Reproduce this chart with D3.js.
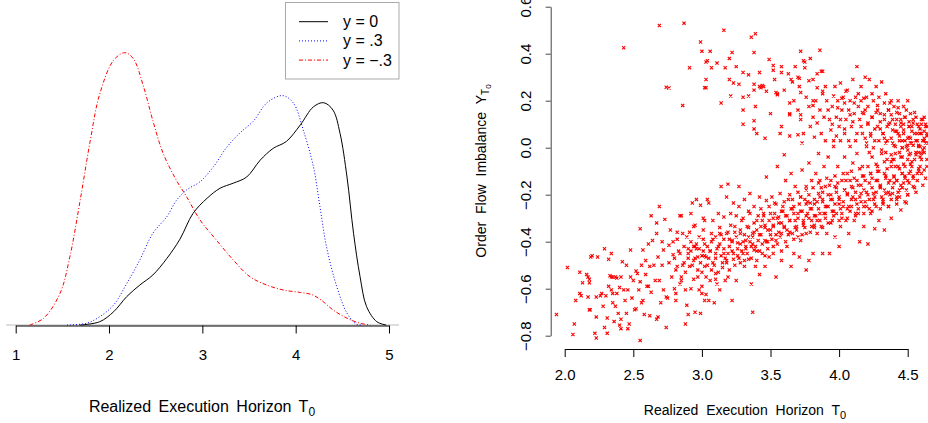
<!DOCTYPE html>
<html>
<head>
<meta charset="utf-8">
<script src="https://cdn.jsdelivr.net/npm/d3@7"></script>
<style>
  body { margin: 0; background: #fff; }
  svg { display: block; font-family: "Liberation Sans", Arial, sans-serif; }
</style>
</head>
<body>
<script>
// density curves, [T0, density]
var densY0 = [[1.69,0],[1.90,0.011],[2.05,0.045],[2.19,0.096],[2.33,0.135],[2.47,0.169],[2.62,0.225],[2.76,0.29],[2.90,0.377],[3.05,0.428],[3.19,0.462],[3.33,0.479],[3.475,0.50],[3.62,0.557],[3.76,0.597],[3.90,0.62],[4.05,0.676],[4.19,0.737],[4.30,0.751],[4.40,0.726],[4.475,0.648],[4.55,0.50],[4.62,0.31],[4.69,0.163],[4.76,0.062],[4.87,0.011],[4.97,0]];
var densY03 = [[1.55,0],[1.76,0.006],[1.90,0.028],[2.05,0.068],[2.19,0.14],[2.33,0.22],[2.47,0.31],[2.62,0.366],[2.72,0.42],[2.83,0.456],[2.975,0.484],[3.12,0.535],[3.26,0.60],[3.40,0.648],[3.55,0.69],[3.69,0.75],[3.86,0.775],[3.975,0.75],[4.08,0.66],[4.19,0.535],[4.26,0.40],[4.33,0.265],[4.44,0.13],[4.55,0.04],[4.65,0.003],[4.72,0]];
var densYm03 = [[1.15,0],[1.30,0.023],[1.475,0.107],[1.58,0.23],[1.69,0.42],[1.80,0.625],[1.90,0.78],[2.05,0.895],[2.17,0.92],[2.26,0.90],[2.37,0.805],[2.47,0.69],[2.58,0.58],[2.72,0.49],[2.83,0.434],[2.975,0.355],[3.15,0.287],[3.33,0.22],[3.51,0.163],[3.69,0.135],[3.87,0.118],[4.05,0.110],[4.17,0.103],[4.27,0.085],[4.40,0.051],[4.55,0.023],[4.69,0.006],[4.80,0]];

var legendLabels = ["y = 0", "y = .3", "y = \u2212.3"];
var leftTicks = [1, 2, 3, 4, 5];
var rightXTicks = [2.0, 2.5, 3.0, 3.5, 4.0, 4.5];
var rightYTicks = [-0.8, -0.6, -0.4, -0.2, 0.0, 0.2, 0.4, 0.6];

// scatter (T0, Y_T0), upper branch
var upperPoints = [[2.43,0.425],[2.69,0.52],[2.87,0.53],[2.74,0.257],[2.76,0.254],[2.86,0.18],[2.91,0.34],[2.99,0.45],[3.00,0.41],[3.06,0.41],[3.03,0.365],[3.04,0.37],[3.07,0.34],[3.03,0.29],[3.02,0.255],[3.03,0.255],[3.11,0.36],[3.16,0.50],[3.17,0.34],[3.20,0.38],[3.22,0.405],[3.14,0.19],[3.20,0.29],[3.21,0.22],[3.23,0.275],[3.25,0.345],[3.27,0.27],[3.30,0.32],[3.34,0.31],[3.30,0.215],[3.34,0.22],[3.30,0.16],[3.30,0.10],[3.36,0.47],[3.39,0.485],[3.38,0.405],[3.38,0.27],[3.38,0.245],[3.38,0.115],[3.38,0.08],[3.39,0.175],[3.40,0.06],[3.42,0.26],[3.43,0.255],[3.44,0.265],[3.45,0.26],[3.42,0.32],[3.47,0.24],[3.46,0.04],[3.49,0.375],[3.50,0.145],[3.52,0.35],[3.52,0.33],[3.53,0.29],[3.54,0.235],[3.55,0.23],[3.55,0.225],[3.58,0.345],[3.58,0.32],[3.58,0.09],[3.57,0.06],[3.60,0.245],[3.63,0.315],[3.64,0.14],[3.64,0.145],[3.64,0.05],[3.65,0.29],[3.66,0.28],[3.68,0.345],[3.70,0.30],[3.71,0.295],[3.71,0.26],[3.72,0.235],[3.72,0.41],[3.74,0.37],[3.75,0.365],[3.75,0.34],[3.78,0.285],[3.79,0.38],[3.81,0.29],[3.81,0.20],[3.81,0.18],[3.84,0.315],[3.84,0.255],[3.86,0.415],[3.87,0.325],[3.88,0.325],[3.88,0.24],[3.90,0.26],[3.72,0.14],[3.72,0.12],[3.70,0.055],[3.73,0.02],[3.76,0.215],[3.78,0.175],[3.79,0.09],[3.81,0.13],[3.82,0.045],[3.83,0.20],[3.84,0.105],[3.86,0.16],[3.87,0.06],[3.88,0.23],[3.89,0.13],[3.90,0.03],[3.70,0.16],[3.74,0.06],[3.67,0.20],[3.64,0.19],
  [3.91,0.20],[3.92,0.16],[3.93,0.12],[3.94,0.075],[3.95,0.175],[3.96,0.03],[3.97,0.26],[3.98,0.13],[3.99,0.20],[4.00,0.09],[4.01,0.275],[4.02,0.16],[4.03,0.215],[4.04,0.06],[4.04,0.19],[4.05,0.12],[4.06,0.245],[4.07,0.16],[4.08,0.20],[4.09,0.09],[4.10,0.29],[4.11,0.145],[4.12,0.215],[4.12,0.03],[4.13,0.345],[4.14,0.175],[4.15,0.12],[4.16,0.26],[4.16,0.20],[4.17,0.06],[4.18,0.145],[4.19,0.30],[4.20,0.215],[4.21,0.105],[4.21,0.175],[4.22,0.29],[4.23,0.06],[4.24,0.23],[4.24,0.13],[4.25,0.20],[4.26,0.03],[4.27,0.26],[4.28,0.16],[4.28,0.09],[4.29,0.215],[4.30,0.145],[4.31,0.28],[4.32,0.06],[4.33,0.19],[4.33,0.12],[4.34,0.23],[4.35,0.03],[4.36,0.16],[4.37,0.105],[4.38,0.20],[4.38,0.14],[4.39,0.075],[4.40,0.175],[4.41,0.005],[4.42,0.12],[4.43,0.20],[4.43,0.06],[4.44,0.145],[4.45,0.105],[4.46,0.03],[4.47,0.175],[4.47,0.075],[4.48,0.13],[4.49,0.005],[4.50,0.20],[4.51,0.09],[4.51,0.045],[4.52,0.145],[4.53,0.02],[4.54,0.105],[4.55,0.06],[4.56,0.13],[4.57,0.03],[4.58,0.09],[4.59,0.005],[4.60,0.06],[4.61,0.12],[4.62,0.03],[4.63,0.09],
  [4.30,0.08],[4.33,0.04],[4.36,0.10],[4.39,0.02],[4.42,0.07],[4.45,0.12],[4.48,0.03],[4.51,0.09],[4.54,0.01],[4.57,0.06],[4.60,0.10],[4.63,0.02],[4.34,-0.02],[4.40,-0.05],[4.46,0.00],[4.52,0.04],[4.58,-0.02],[4.62,0.07],[4.44,0.05],[4.50,0.01]];

// dense cluster where the two branches meet (right edge)
var clusterPoints = [[4.20,0.02],[4.21,0.10],[4.19,0.16],[4.23,0.05],[4.24,0.13],[4.22,-0.02],[4.26,0.08],[4.27,0.15],[4.25,0.00],[4.29,0.03],[4.30,0.11],[4.28,0.18],[4.32,0.06],[4.33,0.14],[4.31,-0.01],[4.35,0.09],[4.36,0.16],[4.34,0.02],[4.38,0.04],[4.39,0.12],[4.37,0.19],[4.38,-0.03],[4.41,0.07],[4.42,0.15],[4.40,0.01],[4.41,0.10],[4.44,0.03],[4.45,0.09],[4.43,0.17],[4.44,-0.02],[4.47,0.06],[4.48,0.13],[4.46,0.00],[4.47,0.10],[4.50,0.04],[4.51,0.11],[4.49,0.16],[4.50,-0.01],[4.53,0.07],[4.54,0.12],[4.52,0.02],[4.53,0.09],[4.56,0.03],[4.57,0.10],[4.55,0.15],[4.56,-0.02],[4.59,0.06],[4.60,0.12],[4.58,0.01],[4.59,0.08],[4.62,0.04],[4.63,0.10],[4.61,-0.01],[4.62,0.13],[4.64,0.06],[4.65,0.02],[4.64,0.09],
  [3.95,0.10],[3.96,0.22],[3.98,0.05],[3.99,0.17],[4.01,0.12],[4.02,0.21],[4.04,0.08],[4.05,0.24],[4.07,0.03],[4.08,0.14],[4.10,0.11],[4.11,0.19],[4.13,0.06],[4.14,0.23],[4.16,0.09],[4.17,0.15],[4.19,0.04],[4.18,0.21]];

// scatter, lower band
var lowerPoints = [[1.94,-0.71],[2.02,-0.51],[2.06,-0.795],[2.07,-0.75],[2.08,-0.65],[2.11,-0.53],[2.11,-0.62],[2.12,-0.63],[2.13,-0.575],[2.16,-0.54],[2.17,-0.55],[2.18,-0.56],[2.18,-0.69],[2.185,-0.69],[2.17,-0.635],[2.18,-0.575],[2.19,-0.465],[2.20,-0.46],[2.22,-0.79],[2.23,-0.81],[2.23,-0.72],[2.23,-0.635],[2.24,-0.465],[2.26,-0.63],[2.27,-0.62],[2.29,-0.43],[2.28,-0.675],[2.29,-0.765],[2.30,-0.63],[2.31,-0.725],[2.31,-0.79],[2.32,-0.475],[2.32,-0.59],[2.33,-0.545],[2.34,-0.55],[2.35,-0.55],[2.34,-0.45],[2.34,-0.605],[2.35,-0.62],[2.35,-0.66],[2.36,-0.74],[2.37,-0.55],[2.38,-0.555],[2.37,-0.675],[2.38,-0.62],[2.39,-0.705],[2.40,-0.755],[2.40,-0.595],[2.42,-0.485],[2.41,-0.55],[2.41,-0.73],[2.41,-0.77],[2.43,-0.605],[2.44,-0.65],[2.45,-0.50],[2.45,-0.705],[2.46,-0.605],[2.46,-0.77],[2.47,-0.75],[2.48,-0.435],[2.48,-0.55],[2.49,-0.64],[2.50,-0.565],[2.51,-0.69],[2.52,-0.685],[2.52,-0.525],[2.53,-0.535],[2.54,-0.605],[2.55,-0.345],[2.55,-0.57],[2.55,-0.82],[2.56,-0.50],[2.56,-0.66],[2.57,-0.65],[2.57,-0.435],[2.58,-0.71],[2.59,-0.48],[2.59,-0.54],[2.60,-0.59],[2.61,-0.59],[2.61,-0.41],[2.62,-0.715],[2.63,-0.615],[2.62,-0.505],[2.63,-0.29],[2.64,-0.395],[2.65,-0.50],[2.66,-0.565],[2.67,-0.73],[2.68,-0.72],[2.67,-0.32],[2.67,-0.365],[2.68,-0.465],[2.69,-0.25],[2.69,-0.565],[2.70,-0.66],[2.71,-0.40],[2.71,-0.50],[2.72,-0.605],[2.72,-0.435],[2.73,-0.305],[2.74,-0.765],[2.74,-0.635],[2.75,-0.64],[2.76,-0.415],[2.76,-0.49],[2.77,-0.35],[2.78,-0.55],[2.79,-0.455],[2.80,-0.60],[2.81,-0.65],[2.81,-0.62],[2.82,-0.39],[2.82,-0.505],[2.84,-0.29],[2.85,-0.29],[2.84,-0.45],[2.85,-0.565],[2.86,-0.365],[2.87,-0.49],[2.88,-0.605],[2.88,-0.75],[2.89,-0.67],[2.90,-0.43],[2.90,-0.71],[2.91,-0.505],[2.92,-0.28],[2.92,-0.60],[2.93,-0.235],[2.94,-0.42],[2.95,-0.42],[2.94,-0.335],[2.95,-0.70],[2.96,-0.22],[2.97,-0.465],[2.97,-0.55],[2.98,-0.605],[2.99,-0.245],[2.99,-0.705],[3.00,-0.59],[3.00,-0.62],[3.01,-0.44],[3.01,-0.30],[3.02,-0.31],[3.02,-0.65],[3.02,-0.505],[3.03,-0.625],[3.03,-0.465],[3.04,-0.22],[3.05,-0.235],[3.05,-0.65],[3.06,-0.565],[3.07,-0.365],[3.08,-0.31],[3.09,-0.66],[3.10,-0.535],[3.10,-0.45],[3.11,-0.58],[3.12,-0.28],[3.13,-0.605],[3.13,-0.365],[3.14,-0.165],[3.15,-0.49],[3.16,-0.295],[3.16,-0.45],[3.17,-0.565],[3.18,-0.21],[3.18,-0.365],[3.19,-0.155],[3.19,-0.45],[3.20,-0.52],[3.21,-0.28],[3.22,-0.395],[3.22,-0.65],[3.23,-0.235],[3.23,-0.475],[3.24,-0.335],[3.25,-0.565],[3.26,-0.405],[3.27,-0.165],[3.27,-0.25],[3.28,-0.49],[3.28,-0.365],[3.29,-0.31],[3.30,-0.45],[3.31,-0.505],[3.31,-0.22],[3.32,-0.395],[3.33,-0.335],[3.34,-0.475],[3.35,-0.28],[3.35,-0.195],[3.36,-0.58],[3.37,-0.70],[3.37,-0.365],[3.38,-0.435],[3.38,-0.25],[3.39,-0.505],[3.40,-0.31],[3.41,-0.395],[3.42,-0.54],[3.42,-0.21],[3.43,-0.335],[3.44,-0.45],[3.45,-0.28],[3.46,-0.505],[3.46,-0.395],[3.47,-0.125],[3.47,-0.225],[3.48,-0.35],[3.49,-0.465],[3.50,-0.28],[3.51,-0.21],[3.52,-0.42],[3.52,-0.335],[3.53,-0.235],[3.54,-0.55],[3.54,-0.395],[3.55,-0.08],[3.56,-0.295],[3.57,-0.195],[3.58,-0.365],[3.58,-0.48],[3.59,-0.25],[3.60,-0.03],[3.60,-0.335],[3.61,-0.14],[3.62,-0.42],[3.63,-0.22],[3.64,-0.31],[3.65,-0.505],[3.65,-0.11],[3.66,-0.365],[3.67,-0.25],[3.67,-0.45],[3.68,-0.165],[3.69,-0.335],[3.70,-0.28],[3.71,-0.465],[3.72,-0.21],[3.72,-0.395],[3.73,-0.095],[3.74,-0.31],[3.75,-0.22],[3.76,-0.52],[3.76,-0.365],[3.76,-0.165],[3.77,-0.28],[3.78,-0.48],[3.78,-0.065],[3.79,-0.235],[3.80,-0.335],[3.80,-0.14],[3.81,-0.45],[3.82,-0.22],[3.82,-0.29],[3.83,-0.11],[3.84,-0.365],[3.85,-0.195],[3.85,-0.025],[3.86,-0.28],[3.86,-0.14],[3.87,-0.335],[3.88,-0.45],[3.88,-0.22],[3.89,-0.08],[3.90,-0.28],[3.90,-0.165],[3.91,-0.365],[3.92,-0.25],[3.92,-0.04],[3.93,-0.45],[3.94,-0.14],[3.95,-0.31],[3.95,-0.22],[3.96,0.005],[3.97,-0.38],[3.97,-0.165],[3.98,-0.28],[3.99,-0.08],[4.00,-0.42],[4.00,-0.22],[4.01,0.03],[4.01,-0.335],[4.02,-0.14],[4.03,-0.25],[4.04,-0.04],[4.05,-0.31],[4.06,-0.195],[4.06,-0.11],[4.07,-0.365],[4.08,0.005],[4.09,-0.25],[4.09,-0.165],[4.10,-0.065],[4.11,-0.31],[4.12,-0.22],[4.13,-0.14],[4.13,-0.025],[4.14,-0.28],[4.15,-0.40],[4.16,-0.195],[4.17,-0.08],[4.18,-0.25],[4.18,-0.335],[4.19,-0.14],[4.20,0.005],[4.21,-0.41],[4.22,-0.22],[4.23,-0.11],[4.23,-0.28],[4.24,-0.04],[4.25,-0.195],[4.26,-0.345],[4.27,-0.14],[4.27,-0.25],[4.28,-0.08],[4.29,-0.31],[4.30,-0.165],[4.31,-0.025],[4.32,-0.22],[4.33,-0.11],[4.33,-0.35],[4.34,-0.195],[4.35,-0.05],[4.36,-0.25],[4.37,-0.14],[4.38,-0.08],[4.38,-0.30],[4.39,-0.195],[4.40,-0.125],[4.41,-0.025],[4.42,-0.22],[4.42,-0.14],[4.43,-0.08],[4.44,-0.18],[4.45,-0.265],[4.46,-0.11],[4.46,-0.04],[4.47,-0.15],[4.48,-0.08],[4.49,-0.235],[4.50,-0.14],[4.50,-0.05],[4.51,-0.11],[4.52,-0.025],[4.53,-0.08],[4.54,-0.165],[4.55,-0.05],[4.57,-0.11],[4.58,0.005],[4.59,-0.08],[4.60,-0.025],[4.61,0.03],[4.62,-0.095],[4.64,-0.05]];

// extra points in the densest part of the lower band
var densePoints = [[3.30,-0.40],[3.32,-0.43],[3.34,-0.38],[3.36,-0.42],[3.38,-0.36],[3.40,-0.44],[3.42,-0.37],[3.44,-0.41],[3.46,-0.33],[3.48,-0.40],[3.50,-0.35],[3.52,-0.30],[3.54,-0.37],[3.56,-0.32],[3.58,-0.27],[3.60,-0.34],[3.62,-0.29],[3.64,-0.36],[3.66,-0.26],[3.68,-0.31],[3.70,-0.38],[3.72,-0.27],[3.74,-0.33],[3.76,-0.24],[3.78,-0.30],[3.80,-0.26],[3.82,-0.34],[3.84,-0.23],[3.86,-0.31],[3.88,-0.19],[3.90,-0.25],[3.92,-0.32],[3.94,-0.20],[3.96,-0.27],[3.98,-0.17],[4.00,-0.24],[4.02,-0.30],[4.04,-0.18],[4.06,-0.26],[4.08,-0.14],[4.10,-0.21],[4.12,-0.28],[4.14,-0.16],[4.16,-0.23],[4.18,-0.12],[4.20,-0.19],[4.22,-0.26],[4.24,-0.13],[4.26,-0.21],[4.28,-0.10],[4.30,-0.17],[4.32,-0.24],[4.34,-0.12],[4.36,-0.19],[4.38,-0.06],[4.40,-0.15],[4.42,-0.21],[4.44,-0.09],[4.46,-0.17],[4.48,-0.12],[4.50,-0.20],[4.52,-0.07],[4.54,-0.13],[4.56,-0.03],[4.58,-0.10],[4.60,-0.05],[4.62,0.00],[4.64,0.05],
  [2.90,-0.45],[2.92,-0.40],[2.94,-0.48],[2.96,-0.43],[2.98,-0.38],[3.00,-0.46],[3.02,-0.41],[3.04,-0.50],[3.06,-0.44],[3.08,-0.39],[3.10,-0.47],[3.12,-0.42],[3.14,-0.37],[3.16,-0.43],[3.18,-0.48],[3.20,-0.39],[3.22,-0.44],[3.24,-0.36],[3.26,-0.46],[3.28,-0.41]];

// more of the band core, x from 2.8 to 4.64
var bandPoints = [[2.80,-0.47],[2.81,-0.52],[2.79,-0.40],[2.83,-0.44],[2.84,-0.58],[2.82,-0.36],[2.86,-0.50],[2.87,-0.42],[2.85,-0.55],[2.89,-0.38],[2.90,-0.47],[2.88,-0.53],[2.92,-0.44],[2.93,-0.50],[2.91,-0.36],[2.95,-0.47],[2.96,-0.41],[2.94,-0.56],[2.95,-0.33],[2.98,-0.43],[2.99,-0.49],[2.97,-0.52],[3.01,-0.39],[3.02,-0.46],[3.00,-0.53],[3.01,-0.35],[3.04,-0.42],[3.05,-0.47],[3.03,-0.55],[3.07,-0.40],[3.08,-0.49],[3.06,-0.44],[3.07,-0.52],[3.10,-0.38],[3.11,-0.43],[3.09,-0.50],[3.10,-0.56],[3.13,-0.41],[3.14,-0.46],[3.12,-0.53],[3.13,-0.34],[3.16,-0.39],[3.17,-0.47],[3.15,-0.51],[3.19,-0.36],[3.20,-0.42],[3.18,-0.49],[3.19,-0.55],[3.22,-0.40],[3.23,-0.45],[3.21,-0.33],[3.25,-0.38],[3.26,-0.43],[3.24,-0.50],[3.25,-0.29],[3.28,-0.35],[3.29,-0.44],[3.27,-0.47],[3.31,-0.37],[3.32,-0.42],[3.30,-0.30],[3.31,-0.48],[3.34,-0.34],[3.35,-0.40],[3.33,-0.45],[3.34,-0.27],[3.37,-0.38],[3.38,-0.32],[3.36,-0.47],[3.37,-0.41],[3.40,-0.35],[3.41,-0.29],[3.39,-0.42],[3.40,-0.48],[3.43,-0.37],[3.44,-0.31],[3.42,-0.44],[3.43,-0.26],[3.46,-0.34],[3.47,-0.40],[3.45,-0.29],[3.46,-0.46],[3.49,-0.31],[3.50,-0.37],[3.48,-0.43],[3.49,-0.25],[3.52,-0.33],[3.53,-0.28],[3.51,-0.39],[3.52,-0.45],[3.55,-0.30],[3.56,-0.36],[3.54,-0.24],[3.55,-0.41],[3.58,-0.32],[3.59,-0.27],[3.57,-0.38],[3.58,-0.44],[3.61,-0.29],[3.62,-0.35],[3.60,-0.23],[3.61,-0.40],[3.64,-0.31],[3.65,-0.26],[3.63,-0.37],[3.64,-0.20],[3.67,-0.28],[3.68,-0.34],[3.66,-0.22],[3.67,-0.39],[3.70,-0.30],[3.71,-0.24],[3.69,-0.35],[3.70,-0.19],[3.73,-0.27],[3.74,-0.32],[3.72,-0.21],[3.73,-0.37],[3.76,-0.29],[3.77,-0.23],[3.75,-0.34],[3.76,-0.18],[3.79,-0.26],[3.80,-0.31],[3.78,-0.20],[3.79,-0.36],[3.82,-0.24],[3.83,-0.29],[3.81,-0.17],[3.82,-0.33],[3.85,-0.26],[3.86,-0.21],[3.84,-0.31],[3.85,-0.15],[3.88,-0.23],[3.89,-0.28],[3.87,-0.17],[3.88,-0.34],[3.91,-0.25],[3.92,-0.20],[3.90,-0.30],[3.91,-0.13],[3.94,-0.22],[3.95,-0.27],[3.93,-0.16],[3.94,-0.32],[3.97,-0.24],[3.98,-0.19],[3.96,-0.29],[3.97,-0.12],[4.00,-0.21],[4.01,-0.26],[3.99,-0.15],[4.00,-0.31],[4.03,-0.23],[4.04,-0.18],[4.02,-0.28],[4.03,-0.11],[4.06,-0.20],[4.07,-0.25],[4.05,-0.14],[4.06,-0.30],[4.09,-0.22],[4.10,-0.17],[4.08,-0.27],[4.09,-0.10],[4.12,-0.19],[4.13,-0.24],[4.11,-0.13],[4.12,-0.29],[4.15,-0.21],[4.16,-0.16],[4.14,-0.26],[4.15,-0.09],[4.18,-0.18],[4.19,-0.23],[4.17,-0.12],[4.18,-0.28],[4.21,-0.20],[4.22,-0.15],[4.20,-0.25],[4.21,-0.08],[4.24,-0.17],[4.25,-0.22],[4.23,-0.11],[4.24,-0.27],[4.27,-0.19],[4.28,-0.14],[4.26,-0.24],[4.27,-0.07],[4.30,-0.16],[4.31,-0.21],[4.29,-0.10],[4.30,-0.26],[4.33,-0.18],[4.34,-0.13],[4.32,-0.23],[4.33,-0.06],[4.36,-0.15],[4.37,-0.20],[4.35,-0.09],[4.36,-0.25],[4.39,-0.17],[4.40,-0.12],[4.38,-0.22],[4.39,-0.05],[4.42,-0.14],[4.43,-0.19],[4.41,-0.08],[4.42,-0.24],[4.45,-0.16],[4.46,-0.11],[4.44,-0.21],[4.45,-0.04],[4.48,-0.13],[4.49,-0.18],[4.47,-0.07],[4.48,-0.23],[4.51,-0.15],[4.52,-0.10],[4.50,-0.20],[4.51,-0.03],[4.54,-0.12],[4.55,-0.17],[4.53,-0.06],[4.57,-0.14],[4.58,-0.09],[4.56,-0.19],[4.60,-0.11],[4.61,-0.16],[4.59,-0.04],[4.63,-0.13],[4.64,-0.08],[4.62,-0.02]];

var width = 928, height = 423;

var svg = d3.select("body").append("svg")
  .attr("width", width)
  .attr("height", height);

// ---------- left panel: densities ----------
var lx = d3.scaleLinear().domain([1, 5]).range([15.7, 389]);
var ly = d3.scaleLinear().domain([0, 1]).range([325, 29]);

svg.append("line")
  .attr("x1", 6).attr("x2", 399)
  .attr("y1", ly(0)).attr("y2", ly(0))
  .style("stroke", "#bbb")
  .style("stroke-width", 1);

var line = d3.line()
  .x(function(d) { return lx(d[0]); })
  .y(function(d) { return ly(d[1]); })
  .curve(d3.curveCatmullRom.alpha(0.5));

svg.append("path").datum(densY0)
  .attr("d", line)
  .style("fill", "none").style("stroke", "black").style("stroke-width", 1);
svg.append("path").datum(densY03)
  .attr("d", line)
  .style("fill", "none").style("stroke", "blue").style("stroke-width", 1)
  .style("stroke-dasharray", "1,2");
svg.append("path").datum(densYm03)
  .attr("d", line)
  .style("fill", "none").style("stroke", "red").style("stroke-width", 1)
  .style("stroke-dasharray", "4,2,1,2");

var leftAxis = svg.append("g")
  .attr("transform", "translate(0,325.5)")
  .call(d3.axisBottom(lx).tickValues(leftTicks).tickFormat(d3.format("d"))
    .tickSize(8).tickSizeOuter(0));
leftAxis.selectAll("text")
  .attr("y", 34.5).attr("dy", 0)
  .style("font-size", "15px").style("fill", "#000")
  .style("font-family", "Liberation Sans, Arial, sans-serif");
leftAxis.selectAll("line, path").style("stroke", "#000");

var lt = svg.append("text")
  .attr("x", 202).attr("y", 412)
  .attr("text-anchor", "middle")
  .style("font-size", "16px")
  .style("word-spacing", "3px")
  .text("Realized Execution Horizon T");
lt.append("tspan").attr("dy", 4).style("font-size", "12px").text("0");

// legend
var legend = svg.append("g");
legend.append("rect")
  .attr("x", 285.5).attr("y", 2.5)
  .attr("width", 113.5).attr("height", 76.5)
  .style("fill", "white").style("stroke", "#aaa").style("stroke-width", 1);
var legendStyles = [
  { color: "black", dash: null },
  { color: "blue", dash: "1,2" },
  { color: "red", dash: "4,2,1,2" }
];
legendLabels.forEach(function(lab, i) {
  var yy = 21.7 + i * 19.2;
  legend.append("line")
    .attr("x1", 299).attr("x2", 328)
    .attr("y1", yy).attr("y2", yy)
    .style("stroke", legendStyles[i].color)
    .style("stroke-width", 1)
    .style("stroke-dasharray", legendStyles[i].dash);
  legend.append("text")
    .attr("x", 343).attr("y", yy + 5.5)
    .style("font-size", "16px")
    .text(lab);
});

// ---------- right panel: scatter ----------
var rx = d3.scaleLinear().domain([2, 4.5]).range([564.7, 907.7]);
var ry = d3.scaleLinear().domain([-0.8, 0.6]).range([335.7, 6.7]);

svg.append("clipPath").attr("id", "clipR")
  .append("rect")
  .attr("x", 551).attr("y", 0)
  .attr("width", 377).attr("height", 348);

var allPoints = upperPoints.concat(clusterPoints, lowerPoints, densePoints, bandPoints);

svg.append("g").attr("clip-path", "url(#clipR)")
  .selectAll("path")
  .data(allPoints)
  .enter().append("path")
    .attr("transform", function(d) { return "translate(" + rx(d[0]) + "," + ry(d[1]) + ")"; })
    .attr("d", "M-1.6,-1.6L1.6,1.6M-1.6,1.6L1.6,-1.6")
    .style("stroke", "red")
    .style("stroke-width", 1.1)
    .style("fill", "none");

var rxAxis = svg.append("g")
  .attr("transform", "translate(0,349)")
  .call(d3.axisBottom(rx).tickValues(rightXTicks).tickFormat(d3.format(".1f"))
    .tickSize(8).tickSizeOuter(0));
rxAxis.selectAll("text")
  .attr("y", 31).attr("dy", 0)
  .style("font-size", "15px").style("fill", "#000")
  .style("font-family", "Liberation Sans, Arial, sans-serif");
rxAxis.selectAll("line, path").style("stroke", "#000");

var ryAxis = svg.append("g")
  .attr("transform", "translate(550.7,0)")
  .call(d3.axisLeft(ry).tickValues(rightYTicks).tickFormat(d3.format(".1f"))
    .tickSize(5).tickSizeOuter(0));
ryAxis.selectAll("text")
  .attr("transform", "rotate(-90)")
  .attr("x", 0).attr("y", -20.2).attr("dy", 0)
  .attr("text-anchor", "middle")
  .style("font-size", "15px").style("fill", "#000")
  .style("font-family", "Liberation Sans, Arial, sans-serif");
ryAxis.selectAll("line, path").style("stroke", "#444");

var rt = svg.append("text")
  .attr("x", 745).attr("y", 415)
  .attr("text-anchor", "middle")
  .style("font-size", "14px")
  .style("word-spacing", "4px")
  .text("Realized Execution Horizon T");
rt.append("tspan").attr("dy", 4).style("font-size", "11px").text("0");

var yt = svg.append("text")
  .attr("transform", "translate(486,171) rotate(-90)")
  .attr("text-anchor", "middle")
  .style("font-size", "14px")
  .style("word-spacing", "4px")
  .text("Order Flow Imbalance Y");
yt.append("tspan").attr("dy", 3).style("font-size", "10px").text("T");
yt.append("tspan").attr("dy", 2).style("font-size", "8px").text("0");
</script>
</body>
</html>
